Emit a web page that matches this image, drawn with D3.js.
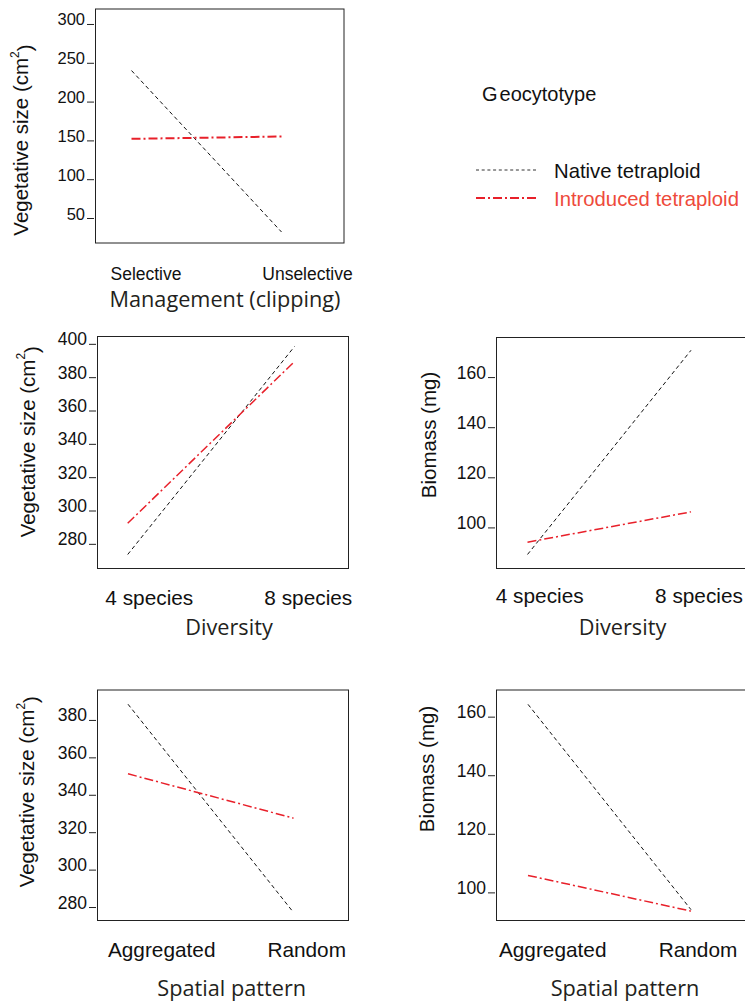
<!DOCTYPE html>
<html>
<head>
<meta charset="utf-8">
<script src="https://cdn.jsdelivr.net/npm/d3@7"></script>
<style>
  body { margin: 0; background: #fff; }
  svg { display: block; }
</style>
</head>
<body>
<div id="viz"></div>
<script>
// categories
const mgmtCats = ["Selective", "Unselective"]
const divCats = ["4 species", "8 species"]
const spatialCats = ["Aggregated", "Random"]

// series values (native / introduced tetraploid)
const mgmtSizeNative = [240, 32]
const mgmtSizeIntroduced = [152, 155]
const divSizeNative = [273.6, 398.4]
const divSizeIntroduced = [292.3, 389.4]
const divBioNative = [89.2, 170.7]
const divBioIntroduced = [94.1, 106.2]
const spatialSizeNative = [388.4, 277.1]
const spatialSizeIntroduced = [351.2, 327.5]
const spatialBioNative = [164.2, 94.1]
const spatialBioIntroduced = [105.8, 93.6]

// tick labels
const sizeTicksMgmt = [50, 100, 150, 200, 250, 300]
const sizeTicksDiv = [280, 300, 320, 340, 360, 380, 400]
const sizeTicksSpatial = [280, 300, 320, 340, 360, 380]
const bioTicks = [100, 120, 140, 160]

const legendTitle = "Geocytotype"
const seriesNames = ["Native tetraploid", "Introduced tetraploid"]

const width = 745
const height = 1003
const red = "#e8202a"
const labelFont = "'Liberation Sans', Arial, sans-serif"
const titleFont = "'Open Sans', 'Noto Sans', sans-serif"

const svg = d3.select("#viz").append("svg")
    .attr("width", width)
    .attr("height", height)

const panels = [
    { left: 95.5, top: 9, right: 344, bottom: 243, yDomain: [17.8, 319.3], ticks: sizeTicksMgmt,
      cats: mgmtCats, native: mgmtSizeNative, introduced: mgmtSizeIntroduced, pts: [36, 186], labs: [146, 307.5],
      catY: 280, catSize: 17.5, tickSize: 16.5, yTitle: "size", yTitleX: 20, yTitleY: 140,
      xTitle: "Management (clipping)", xTitleX: 225, xTitleY: 307, redW: 2 },
    { left: 97.5, top: 336.5, right: 348.5, bottom: 568.5, yDomain: [265.2, 404.4], ticks: sizeTicksDiv,
      cats: divCats, native: divSizeNative, introduced: divSizeIntroduced, pts: [30.2, 197], labs: [149.3, 308.3],
      catY: 605, catSize: 20.8, tickSize: 17.5, yTitle: "size", yTitleX: 26.7, yTitleY: 441.7,
      xTitle: "Diversity", xTitleX: 229, xTitleY: 635, redW: 1.5 },
    { left: 496.5, top: 337.5, right: 750, bottom: 568.5, yDomain: [83.6, 175.8], ticks: bioTicks,
      cats: divCats, native: divBioNative, introduced: divBioIntroduced, pts: [31, 194.5], labs: [539.7, 699],
      catY: 603, catSize: 20.8, tickSize: 17.5, yTitle: "bio", yTitleX: 428.3, yTitleY: 435,
      xTitle: "Diversity", xTitleX: 622.5, xTitleY: 635, redW: 1.5 },
    { left: 97.5, top: 690, right: 348.5, bottom: 920.5, yDomain: [272.8, 396], ticks: sizeTicksSpatial,
      cats: spatialCats, native: spatialSizeNative, introduced: spatialSizeIntroduced, pts: [30.5, 196], labs: [161.7, 306.7],
      catY: 957, catSize: 20.8, tickSize: 17.5, yTitle: "size", yTitleX: 26, yTitleY: 791.7,
      xTitle: "Spatial pattern", xTitleX: 231.7, xTitleY: 996, redW: 1.5 },
    { left: 496.5, top: 690, right: 750, bottom: 920.5, yDomain: [90.4, 169.1], ticks: bioTicks,
      cats: spatialCats, native: spatialBioNative, introduced: spatialBioIntroduced, pts: [31.5, 194.5], labs: [552.7, 698],
      catY: 957, catSize: 20.8, tickSize: 17.5, yTitle: "bio", yTitleX: 426, yTitleY: 769,
      xTitle: "Spatial pattern", xTitleX: 625, xTitleY: 996, redW: 1.5 }
]

panels.forEach(drawPanel)

function drawPanel(p) {
    const x = d3.scalePoint()
        .domain(p.cats)
        .range([p.left + p.pts[0], p.left + p.pts[1]])
    const y = d3.scaleLinear()
        .domain(p.yDomain)
        .range([p.bottom, p.top])

    // frame
    svg.append("rect")
        .attr("x", p.left)
        .attr("y", p.top)
        .attr("width", p.right - p.left)
        .attr("height", p.bottom - p.top)
        .attr("fill", "none")
        .attr("stroke", "#222")
        .attr("stroke-width", 1)

    // y axis: short ticks left of the frame, labels sitting on the tick
    const axis = svg.append("g")
        .attr("transform", "translate(" + (p.left - 1.5) + ",0)")
        .call(d3.axisLeft(y).tickValues(p.ticks).tickSize(7).tickPadding(2).tickFormat(d3.format("d")))
    axis.select(".domain").remove()
    axis.selectAll(".tick line").attr("stroke", "#222")
    axis.selectAll(".tick text")
        .attr("dy", "0.06em")
        .attr("fill", "#111")
        .style("font-family", labelFont)
        .style("font-size", p.tickSize + "px")

    // category labels
    const lab = d3.scalePoint().domain(p.cats).range(p.labs)
    svg.append("g").selectAll("text")
        .data(p.cats)
        .enter().append("text")
        .attr("x", d => lab(d))
        .attr("y", p.catY)
        .attr("text-anchor", "middle")
        .attr("fill", "#111")
        .style("font-family", labelFont)
        .style("font-size", p.catSize + "px")
        .text(d => d)

    // y title
    const yt = svg.append("text")
        .attr("transform", "translate(" + p.yTitleX + "," + p.yTitleY + ") rotate(-90)")
        .attr("text-anchor", "middle")
        .attr("dominant-baseline", "central")
        .attr("fill", "#111")
        .style("font-family", labelFont)
        .style("font-size", "20.5px")
    if (p.yTitle === "size") {
        yt.append("tspan").text("Vegetative size (cm")
        yt.append("tspan").attr("dy", "-0.45em").style("font-size", "12px").text("2")
        yt.append("tspan").attr("dy", "0.45em").text(")")
    } else {
        yt.text("Biomass (mg)")
    }

    // x title
    svg.append("text")
        .attr("x", p.xTitleX)
        .attr("y", p.xTitleY)
        .attr("text-anchor", "middle")
        .attr("fill", "#231f20")
        .style("font-family", titleFont)
        .style("font-size", "21.7px")
        .text(p.xTitle)

    const line = d3.line()
        .x((d, i) => x(p.cats[i]))
        .y(d => y(d))

    svg.append("path")
        .datum(p.native)
        .attr("d", line)
        .attr("fill", "none")
        .attr("stroke", "#111")
        .attr("stroke-width", 1)
        .attr("stroke-dasharray", "4,3")

    svg.append("path")
        .datum(p.introduced)
        .attr("d", line)
        .attr("fill", "none")
        .attr("stroke", red)
        .attr("stroke-width", p.redW)
        .attr("stroke-dasharray", "9,3,2,3")
}

// legend
const legend = svg.append("g")
const lt = legend.append("text")
    .attr("x", 482)
    .attr("y", 101)
    .attr("fill", "#111")
    .style("font-family", labelFont)
    .style("font-size", "20px")
lt.append("tspan").text(legendTitle.slice(0, 1))
lt.append("tspan").attr("dx", 2).text(legendTitle.slice(1))

const legendY = d3.scalePoint().domain(seriesNames).range([170, 198])
const legendStyles = [
    { stroke: "#333", width: 1, dash: "3,2.7", text: "#111" },
    { stroke: red, width: 2, dash: "9,3,2,3", text: "#ee4a3b" }
]
seriesNames.forEach((name, i) => {
    const s = legendStyles[i]
    legend.append("line")
        .attr("x1", 476).attr("x2", 536)
        .attr("y1", legendY(name)).attr("y2", legendY(name))
        .attr("stroke", s.stroke)
        .attr("stroke-width", s.width)
        .attr("stroke-dasharray", s.dash)
    legend.append("text")
        .attr("x", 554)
        .attr("y", legendY(name) + 8)
        .attr("fill", s.text)
        .style("font-family", labelFont)
        .style("font-size", "20.3px")
        .text(name)
})
</script>
</body>
</html>
